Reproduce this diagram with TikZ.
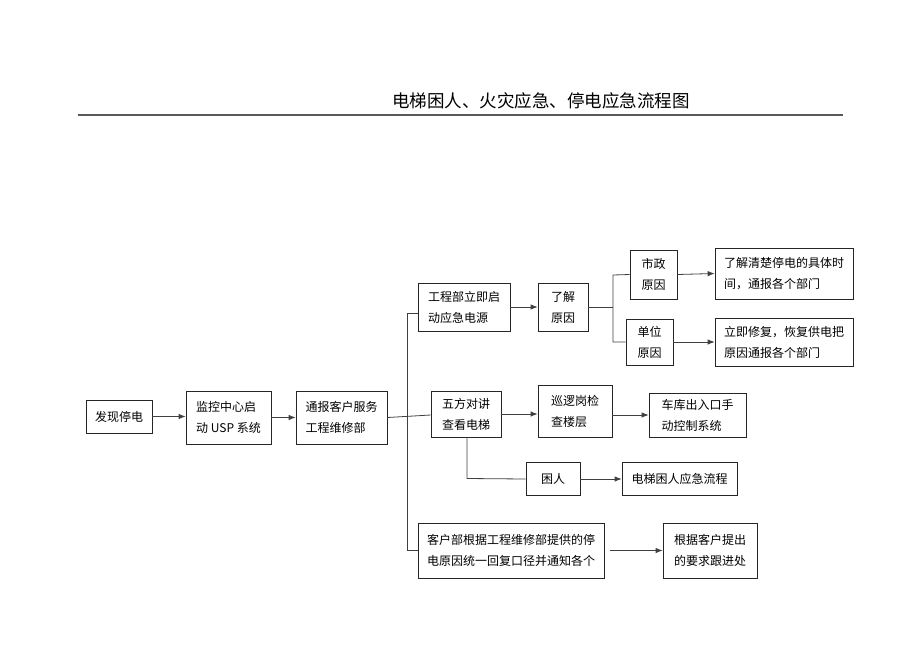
\documentclass[tikz,border=0pt]{standalone}
\usepackage{fontspec}
\setmainfont{Noto Sans CJK SC}
\usetikzlibrary{arrows.meta}
\begin{document}
\begin{tikzpicture}[x=1pt,y=-1pt,
  box/.style={draw=black!85,line width=0.8pt,align=left,inner sep=0pt,
    font=\fontsize{12}{21}\selectfont},
  ln/.style={draw=black!75,line width=0.8pt},
  arr/.style={ln,-{Latex[length=7pt,width=5.5pt]}}]
\useasboundingbox (0,0) rectangle (920,651);
% title
\node[anchor=west,inner sep=0pt,font=\fontsize{17.5}{20}\selectfont] (title) at (392,101) {电梯困人、火灾应急、停电应急流程图};
\coordinate (r1) at (78,115);
\coordinate (r2) at (843,115);
\draw[draw=black!65,line width=1.1pt] (r1) -- (r2);
% boxes
\node[box,minimum width=66pt,minimum height=33pt] (a) at (119,416.5) {发现停电};
\node[box,minimum width=85pt,minimum height=53pt] (b) at (228.5,417.5) {监控中心启\\动~USP~系统};
\node[box,minimum width=91pt,minimum height=53pt] (c) at (341.5,417.5) {通报客户服务\\工程维修部};
\node[box,minimum width=92pt,minimum height=48pt] (d) at (464,307) {工程部立即启\\动应急电源};
\node[box,minimum width=50pt,minimum height=48pt] (e) at (563,307) {了解\\原因};
\node[box,minimum width=47pt,minimum height=49pt] (f) at (653.5,274.5) {市政\\原因};
\node[box,minimum width=138pt,minimum height=51pt] (g) at (784,273.5) {了解清楚停电的具体时\\间，通报各个部门};
\node[box,minimum width=47pt,minimum height=46pt] (h) at (649.5,342) {单位\\原因};
\node[box,minimum width=138pt,minimum height=48pt] (i) at (784,342) {立即修复，恢复供电把\\原因通报各个部门};
\node[box,minimum width=70pt,minimum height=46pt] (j) at (466,414) {五方对讲\\查看电梯};
\node[box,minimum width=74pt,minimum height=52pt] (k) at (575,411) {巡逻岗检\\查楼层};
\node[box,minimum width=97pt,minimum height=44pt] (l) at (697.5,415) {车库出入口手\\动控制系统};
\node[box,minimum width=54pt,minimum height=33pt] (m) at (553,479) {困人};
\node[box,minimum width=115pt,minimum height=33pt] (n) at (679.5,479) {电梯困人应急流程};
\node[box,minimum width=186pt,minimum height=55pt] (o) at (511,550.5) {客户部根据工程维修部提供的停\\电原因统一回复口径并通知各个};
\node[box,minimum width=94pt,minimum height=55pt] (p) at (710,550.5) {根据客户提出\\的要求跟进处};
% junction coordinates
\coordinate (T1) at (407,313);
\coordinate (T2) at (407,550.5);
\coordinate (B) at (613,307);
\coordinate (B1) at (613,275);
\coordinate (B2) at (613,342);
\coordinate (D1) at (467,478.5);
% connectors
\draw[arr] (a.east) -- (a.east -| b.west);
\draw[arr] (b.east) -- (c.west);
\draw[ln] (c.east) -- ([yshift=-1pt]j.west);
\draw[ln] (T1 -| d.west) -- (T1) -- (T2) -- (o.west);
\draw[arr] (d.east) -- (e.west);
\draw[ln] (e.east) -- (B);
\draw[ln] (f.west) -- (B1) -- (B2) -- (h.west);
\draw[arr] (f.east) -- (g.west);
\draw[arr] (h.east) -- (i.west);
\draw[arr] (j.east) -- (j.east -| k.west);
\draw[arr] (k.east |- l.west) -- (l.west);
\draw[ln] (j.south -| D1) -- (D1) -- (m.west);
\draw[arr] (m.east) -- (n.west);
\draw[arr,shorten <=6pt] (o.east) -- (p.west);
\end{tikzpicture}
\end{document}
